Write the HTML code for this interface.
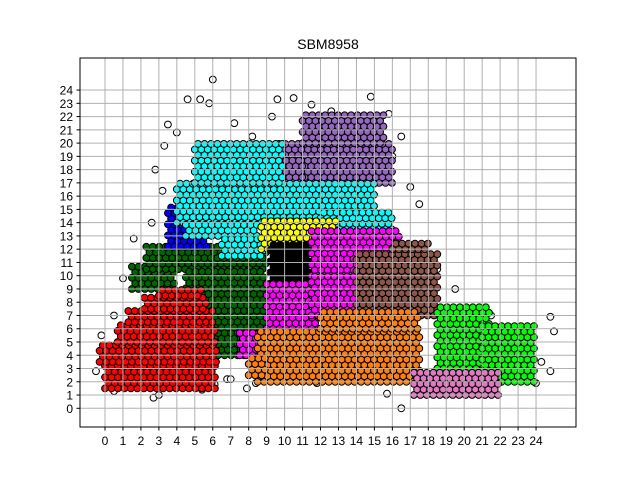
<!DOCTYPE html>
<html><head><meta charset="utf-8"><style>
body{margin:0;background:#fff}
svg{display:block;font-family:"Liberation Sans","DejaVu Sans",sans-serif}
</style></head><body>
<svg id="chart" width="640" height="480" viewBox="0 0 640 480">
<rect width="640" height="480" fill="#fff"/>
<text x="328" y="49" text-anchor="middle" font-size="14">SBM8958</text>
<g id="pts"></g>
<g id="grid"></g>
<rect x="80" y="58" width="496" height="369" fill="none" stroke="#000" stroke-width="1"/>
<g id="ticks"></g>
</svg>
<script>
const xTicks=[0,1,2,3,4,5,6,7,8,9,10,11,12,13,14,15,16,17,18,19,20,21,22,23,24];
const yTicks=[0,1,2,3,4,5,6,7,8,9,10,11,12,13,14,15,16,17,18,19,20,21,22,23,24];
// cluster regions (drawn in order): color, x0, x1, y0, y1
const clusterColors=[
"#006400","#006400","#006400",
"#ff0000","#ff0000","#ff0000","#ff0000","#ff0000","#ff0000",
"#0000ff",
"#9467bd","#9467bd","#9467bd",
"#00ffff","#00ffff","#00ffff","#00ffff","#00ffff",
"#ffff00","#000000",
"#ff00ff","#ff00ff","#ff00ff","#ff00ff",
"#8c564b","#8c564b",
"#ff7f0e","#ff7f0e","#ff7f0e",
"#00ff00","#00ff00",
"#e377c2"];
const clusterX0=[1.5,2.3,4.5, 0,-0.3,0.7,1.3,2.2,3, 3.5, 9.5,11,9, 4,5,4.5,6.5,12, 8.7,9.2, 11.5,9,11.5,7.5, 14,16, 8.5,12,8, 18.5,21, 17.2];
const clusterX1=[4,9,9, 6.2,6.2,6.2,6,5.8,5.5, 5.8, 16,15.5,11, 15,10,8.5,9,16, 13,11.5, 16.5,12,14,9, 18.5,18, 17.5,17.5,9, 21.5,24, 22];
const clusterY0=[9,10.5,4, 1.5,3.5,5,6.5,7.5,8.5, 12.2, 17,20,17, 14,17,13,11.5,13.5, 12,9.4, 10,6,7,4, 7,12, 2,6,2.5, 3,2, 1];
const clusterY1=[11,12.3,10.5, 3.5,5,6.5,7.5,8.5,9.2, 15.5, 20,22.5,19, 17,20,14,13,15, 14.2,12.6, 13.5,9.5,10,6, 12,12.5, 6,7.5,4, 8,6.5, 3];
const whiteX=[6,4.6,5.3,5.8,9.6,10.5,11.5,12.6,14.8,15.8,3.5,3.3,2.8,3.2,2.6,1.6,1,0.5,-0.2,-0.5,0.5,2.7,3,4.4,5.4,6.1,7.9,8.4,11.8,15.7,16.5,24,24.3,25,24.8,24.8,21.5,19.5,18.5,17.8,17.5,17,16.5,16,4,7.2,8.2,9.3,13,11,6.8,7,10.2,1.5];
const whiteY=[24.8,23.3,23.3,23,23.3,23.4,22.9,22.4,23.5,22.2,21.4,19.8,18,16.4,14,12.8,9.8,7,5.5,2.8,1.3,0.8,1,1.6,1.4,1.8,1.5,1.9,1.9,1.1,0,1.9,3.5,5.8,6.9,2.8,7,9,10.5,12.3,15.4,16.7,20.5,19,20.8,21.5,20.5,22,2.5,2.8,2.2,2.2,3.8,3.8];
const X=v=>105+v*17.96, Y=v=>408.3-v*13.26;
const NS="http://www.w3.org/2000/svg";
const pts=document.getElementById('pts');
function dot(x,y,c){
  const e=document.createElementNS(NS,'circle');
  e.setAttribute('cx',X(x).toFixed(1));e.setAttribute('cy',Y(y).toFixed(1));
  e.setAttribute('r','3.4');e.setAttribute('fill',c);e.setAttribute('stroke','#000');e.setAttribute('stroke-width','1');
  
  
  pts.appendChild(e);
}
for(let i=0;i<whiteX.length;i++) dot(whiteX[i],whiteY[i],'#fff');
for(let k=0;k<clusterColors.length;k++){
  const dy=0.42,dx=0.36;let row=0;
  for(let y=clusterY0[k];y<=clusterY1[k];y+=dy,row++){
    for(let x=clusterX0[k]+(row%2?dx/2:0);x<=clusterX1[k];x+=dx) dot(x,y,clusterColors[k]);
  }
}
const g=document.getElementById('grid'),t=document.getElementById('ticks');
function line(p,x1,y1,x2,y2,c,w,name){const e=document.createElementNS(NS,'line');e.setAttribute('x1',x1);e.setAttribute('y1',y1);e.setAttribute('x2',x2);e.setAttribute('y2',y2);e.setAttribute('stroke',c);e.setAttribute('stroke-width',w);


p.appendChild(e);}
function txt(x,y,s,a,name){const e=document.createElementNS(NS,'text');e.setAttribute('x',x);e.setAttribute('y',y);e.setAttribute('text-anchor',a);e.setAttribute('font-size','12');e.textContent=s;


t.appendChild(e);}
xTicks.forEach(v=>{const x=X(v);line(g,x,58,x,427,'#b0b0b0',1,'x-gridline');line(t,x,427,x,430.5,'#000',1,'x-tick');txt(x,445,String(v),'middle','x-tick-label');});
yTicks.forEach(v=>{const y=Y(v);line(g,80,y,576,y,'#b0b0b0',1,'y-gridline');line(t,76.5,y,80,y,'#000',1,'y-tick');txt(73,y+4.5,String(v),'end','y-tick-label');});
</script>
</body></html>
